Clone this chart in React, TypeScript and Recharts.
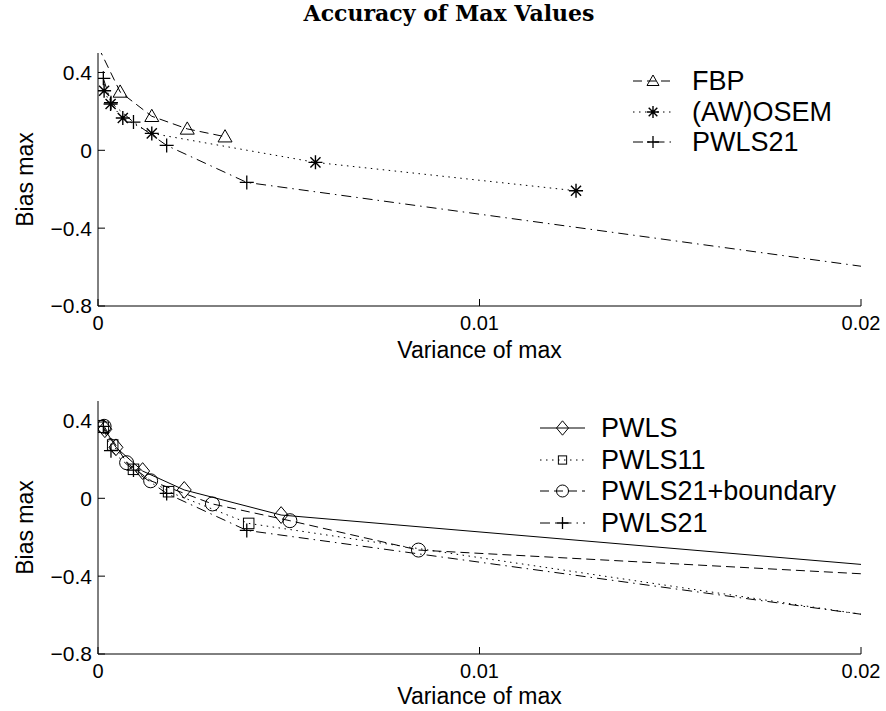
import React from "react";
import { LineChart, Line, XAxis, YAxis } from "recharts";

const SANS = "'Liberation Sans', Arial, Helvetica, sans-serif";
const SERIF = "'DejaVu Serif', serif";

const xTicks = [0, 0.01, 0.02];
const xTickLabels = ["0", "0.01", "0.02"];
const yTicks = [-0.8, -0.4, 0, 0.4];
const yTickLabels = ["\u22120.8", "\u22120.4", "0", "0.4"];

// upper panel
const fbpVar = [0.00001, 0.00058, 0.00141, 0.00234, 0.00333];
const fbpBias = [0.53, 0.3, 0.175, 0.11, 0.07];
const osemVar = [0.00016, 0.00033, 0.00065, 0.00141, 0.0057, 0.01253];
const osemBias = [0.306, 0.238, 0.166, 0.087, -0.062, -0.208];
const pwls21Var = [0.00014, 0.00034, 0.00093, 0.0018, 0.0039, 0.0205];
const pwls21Bias = [0.37, 0.245, 0.145, 0.025, -0.165, -0.609];

// lower panel
const pwlsVar = [0.00018, 0.00047, 0.00117, 0.00226, 0.0048, 0.0205];
const pwlsBias = [0.355, 0.262, 0.14, 0.043, -0.086, -0.348];
const pwls11Var = [0.00014, 0.000385, 0.00093, 0.00185, 0.00395, 0.0205];
const pwls11Bias = [0.365, 0.274, 0.149, 0.034, -0.129, -0.61];
const boundVar = [0.00016, 0.00075, 0.00138, 0.003, 0.00503, 0.0084, 0.0205];
const boundBias = [0.37, 0.183, 0.09, -0.029, -0.115, -0.266, -0.393];

const DASH = "9 5";
const DOT = "1.5 4.5";
const DASHDOT = "10 5 1.5 5";

type Kind = "triangle" | "asterisk" | "plus" | "diamond" | "square" | "circle";

interface Series {
  name: string;
  kind: Kind;
  dash?: string;
  data: { x: number; y: number }[];
}

const zip = (xs: number[], ys: number[]) => xs.map((x, i) => ({ x, y: ys[i] }));

const topSeries: Series[] = [
  { name: "FBP", kind: "triangle", dash: DASH, data: zip(fbpVar, fbpBias) },
  { name: "(AW)OSEM", kind: "asterisk", dash: DOT, data: zip(osemVar, osemBias) },
  { name: "PWLS21", kind: "plus", dash: DASHDOT, data: zip(pwls21Var, pwls21Bias) },
];

const bottomSeries: Series[] = [
  { name: "PWLS", kind: "diamond", data: zip(pwlsVar, pwlsBias) },
  { name: "PWLS11", kind: "square", dash: DOT, data: zip(pwls11Var, pwls11Bias) },
  { name: "PWLS21+boundary", kind: "circle", dash: DASH, data: zip(boundVar, boundBias) },
  { name: "PWLS21", kind: "plus", dash: DASHDOT, data: zip(pwls21Var, pwls21Bias) },
];

function Marker({ kind, cx, cy, s }: { kind: Kind; cx: number; cy: number; s: number }) {
  const h = s / 2;
  const st = { fill: "none", stroke: "#000", strokeWidth: 1 };
  switch (kind) {
    case "triangle":
      return <polygon points={`${cx},${cy - h} ${cx - h},${cy + h * 0.75} ${cx + h},${cy + h * 0.75}`} {...st} />;
    case "asterisk": {
      const d = h * 0.72;
      return (
        <path
          d={`M${cx - h},${cy}H${cx + h}M${cx},${cy - h}V${cy + h}M${cx - d},${cy - d}L${cx + d},${cy + d}M${cx - d},${cy + d}L${cx + d},${cy - d}`}
          {...st}
          strokeWidth={1.4}
        />
      );
    }
    case "plus":
      return <path d={`M${cx - h},${cy}H${cx + h}M${cx},${cy - h}V${cy + h}`} {...st} strokeWidth={1.3} />;
    case "diamond":
      return <polygon points={`${cx},${cy - h * 1.2} ${cx + h},${cy} ${cx},${cy + h * 1.2} ${cx - h},${cy}`} {...st} />;
    case "square":
      return <rect x={cx - h * 0.75} y={cy - h * 0.75} width={h * 1.5} height={h * 1.5} {...st} />;
    case "circle":
      return <circle cx={cx} cy={cy} r={h} {...st} />;
  }
  return null;
}

// markers outside the axes box are not drawn (the line is clipped by the chart)
const renderDot = (kind: Kind) => (p: any) => {
  const key = `d-${p.index}`;
  const pt = p.payload;
  if (pt && (pt.y > 0.5 || pt.x > 0.02)) return <g key={key} />;
  return (
    <g key={key}>
      <Marker kind={kind} cx={p.cx} cy={p.cy} s={14} />
    </g>
  );
};

function Panel({ series, height, top, axisH, labelOffset }: { series: Series[]; height: number; top: number; axisH: number; labelOffset: number }) {
  return (
    <LineChart width={886} height={height} margin={{ top, right: 25, left: 0, bottom: 0 }}>
      <XAxis
        xAxisId="b"
        dataKey="x"
        type="number"
        domain={[0, 0.02]}
        ticks={xTicks}
        allowDataOverflow
        height={axisH}
        tickSize={-7}
        tickMargin={17}
        tickFormatter={(v: number) => xTickLabels[xTicks.indexOf(v)]}
        tick={{ fill: "#000", fontSize: 20, fontFamily: SANS }}
        axisLine={{ stroke: "#000" }}
        tickLine={{ stroke: "#000" }}
        label={{ value: "Variance of max", position: "insideBottom", offset: labelOffset, fill: "#000", fontSize: 23, fontFamily: SANS }}
      />
      <XAxis
        xAxisId="t"
        orientation="top"
        type="number"
        domain={[0, 0.02]}
        ticks={xTicks}
        allowDataOverflow
        height={0}
        tickSize={-7}
        tick={false}
        axisLine={{ stroke: "#000" }}
        tickLine={{ stroke: "#000" }}
      />
      <YAxis
        yAxisId="l"
        type="number"
        domain={[-0.8, 0.5]}
        ticks={yTicks}
        allowDataOverflow
        width={98}
        tickSize={-7}
        tickMargin={13}
        tickFormatter={(v: number) => yTickLabels[yTicks.indexOf(v)]}
        tick={{ fill: "#000", fontSize: 21, fontFamily: SANS }}
        axisLine={{ stroke: "#000" }}
        tickLine={{ stroke: "#000" }}
        label={{ value: "Bias max", angle: -90, position: "center", dx: -24, fill: "#000", fontSize: 23, fontFamily: SANS }}
      />
      <YAxis
        yAxisId="r"
        orientation="right"
        type="number"
        domain={[-0.8, 0.5]}
        ticks={yTicks}
        allowDataOverflow
        width={0}
        tickSize={-7}
        tick={false}
        axisLine={{ stroke: "#000" }}
        tickLine={{ stroke: "#000" }}
      />
      {series.map((s) => (
        <Line
          key={s.name}
          data={s.data}
          dataKey="y"
          xAxisId="b"
          yAxisId="l"
          type="linear"
          stroke="#000"
          strokeWidth={1}
          strokeDasharray={s.dash}
          dot={renderDot(s.kind)}
          activeDot={false}
          isAnimationActive={false}
        />
      ))}
    </LineChart>
  );
}

function LegendBox({ series, x, rows, lineFrom, lineTo }: { series: Series[]; x: number; rows: number[]; lineFrom: number; lineTo: number }) {
  const mid = (lineFrom + lineTo) / 2;
  return (
    <g>
      {series.map((s, i) => (
        <g key={s.name}>
          <line x1={lineFrom} x2={lineTo} y1={rows[i]} y2={rows[i]} stroke="#000" strokeWidth={1} strokeDasharray={s.dash} />
          <Marker kind={s.kind} cx={mid} cy={rows[i]} s={s.kind === "square" ? 11 : 12} />
          <text x={x} y={rows[i]} dominantBaseline="central" fontSize={27} fontFamily={SANS} fill="#000">
            {s.name}
          </text>
        </g>
      ))}
    </g>
  );
}

export default function App() {
  return (
    <div style={{ position: "absolute", left: 0, top: 0, width: 886, height: 711, background: "#fff", overflow: "hidden" }}>
      <div style={{ position: "absolute", left: 0, top: 0 }}>
        <Panel series={topSeries} height={372} top={53} axisH={66} labelOffset={14} />
      </div>
      <div style={{ position: "absolute", left: 0, top: 360 }}>
        <Panel series={bottomSeries} height={351} top={41} axisH={57} labelOffset={7} />
      </div>
      <svg width={886} height={711} style={{ position: "absolute", left: 0, top: 0, pointerEvents: "none" }}>
        <text x={449} y={21} textAnchor="middle" fontSize={22} fontWeight="bold" fontFamily={SERIF} fill="#000">
          Accuracy of Max Values
        </text>
        <LegendBox series={topSeries} x={692} rows={[81, 112, 142]} lineFrom={633} lineTo={673} />
        <LegendBox series={bottomSeries} x={601} rows={[428, 460, 491, 523]} lineFrom={540} lineTo={585} />
      </svg>
    </div>
  );
}
